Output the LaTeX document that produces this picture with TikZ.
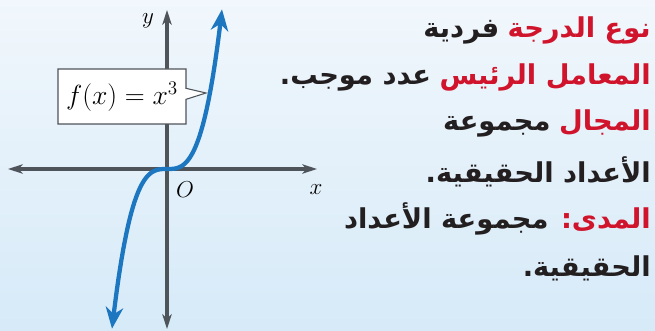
\documentclass[tikz,border=0pt]{standalone}
\usepackage{fontspec}
\usetikzlibrary{arrows.meta,shapes.callouts}
\newfontfamily\arabicfont[Script=Arabic]{DejaVu Sans}
\TeXXeTstate=1
\definecolor{bgtop}{HTML}{F1F7FC}
\definecolor{bgbot}{HTML}{D6EAF8}
\definecolor{axisgray}{HTML}{4F535A}
\definecolor{curveblue}{HTML}{1C77C0}
\definecolor{termred}{HTML}{D0142C}
\definecolor{textblack}{HTML}{231F20}
\tikzset{
  axisline/.style={axisgray, line width=2.4pt, {Stealth[length=11pt,width=7pt,inset=3pt]}-{Stealth[length=11pt,width=7pt,inset=3pt]}},
  curveline/.style={curveblue, line width=3.2pt, {Stealth[length=16pt,width=13pt,inset=5pt]}-{Stealth[length=16pt,width=13pt,inset=5pt]}},
  axislabel/.style={font=\fontsize{17}{19}\selectfont, inner sep=0pt},
  arline/.style={anchor=base east, inner sep=0pt, text=textblack, font=\arabicfont\bfseries\fontsize{20.5}{24}\selectfont},
  arterm/.style={arline, text=termred},
  calloutbox/.style={rectangle callout, draw=axisgray, line width=0.8pt, fill=white, inner sep=0pt,
    minimum width=96pt, minimum height=41.25pt, callout pointer width=8.25pt}
}
\begin{document}
\begin{tikzpicture}[x=0.75pt,y=-0.75pt]
\shade[top color=bgtop, bottom color=bgbot] (0,0) rectangle (655,331);
\useasboundingbox (0,0) rectangle (655,331);
% axes
\coordinate (xl) at (8,169);
\coordinate (xr) at (317,169);
\coordinate (yt) at (167,10);
\coordinate (yb) at (167,329);
\draw[axisline] (xl) -- (xr);
\draw[axisline] (yb) -- (yt);
\node[axislabel] (ylab) at (148,21) {$y$};
\node[axislabel] (olab) at (185,190) {$O$};
\node[axislabel] (xlab) at (316,190) {$x$};
% curve
\draw[curveline] plot[domain=-5.5:5.5, samples=80, smooth] ({167+10*\x},{169-0.96*\x*\x*\x});
\coordinate (ptr) at (206,93);
\node[calloutbox, callout absolute pointer={(ptr)}] (lbl) at (122,96.5) {\fontsize{22}{26}\selectfont$f(x)=x^3$};
% text
\node[arterm] (l1r) at (651,38) {\beginR نوع الدرجة\endR};
\node[arline] (l1b) at ([xshift=-6pt]l1r.base west) {\beginR فردية\endR};
\node[arterm] (l2r) at (651,85) {\beginR المعامل الرئيس\endR};
\node[arline] (l2b) at ([xshift=-6pt]l2r.base west) {\beginR عدد موجب.\endR};
\node[arterm] (l3r) at (651,131) {\beginR المجال\endR};
\node[arline] (l3b) at ([xshift=-6pt]l3r.base west) {\beginR مجموعة\endR};
\node[arline] (l4) at (651,182) {\beginR الأعداد الحقيقية.\endR};
\node[arterm] (l5r) at (651,228) {\beginR المدى:\endR};
\node[arline] (l5b) at ([xshift=-9pt]l5r.base west) {\beginR مجموعة الأعداد\endR};
\node[arline] (l6) at (651,276) {\beginR الحقيقية.\endR};
\end{tikzpicture}
\end{document}
